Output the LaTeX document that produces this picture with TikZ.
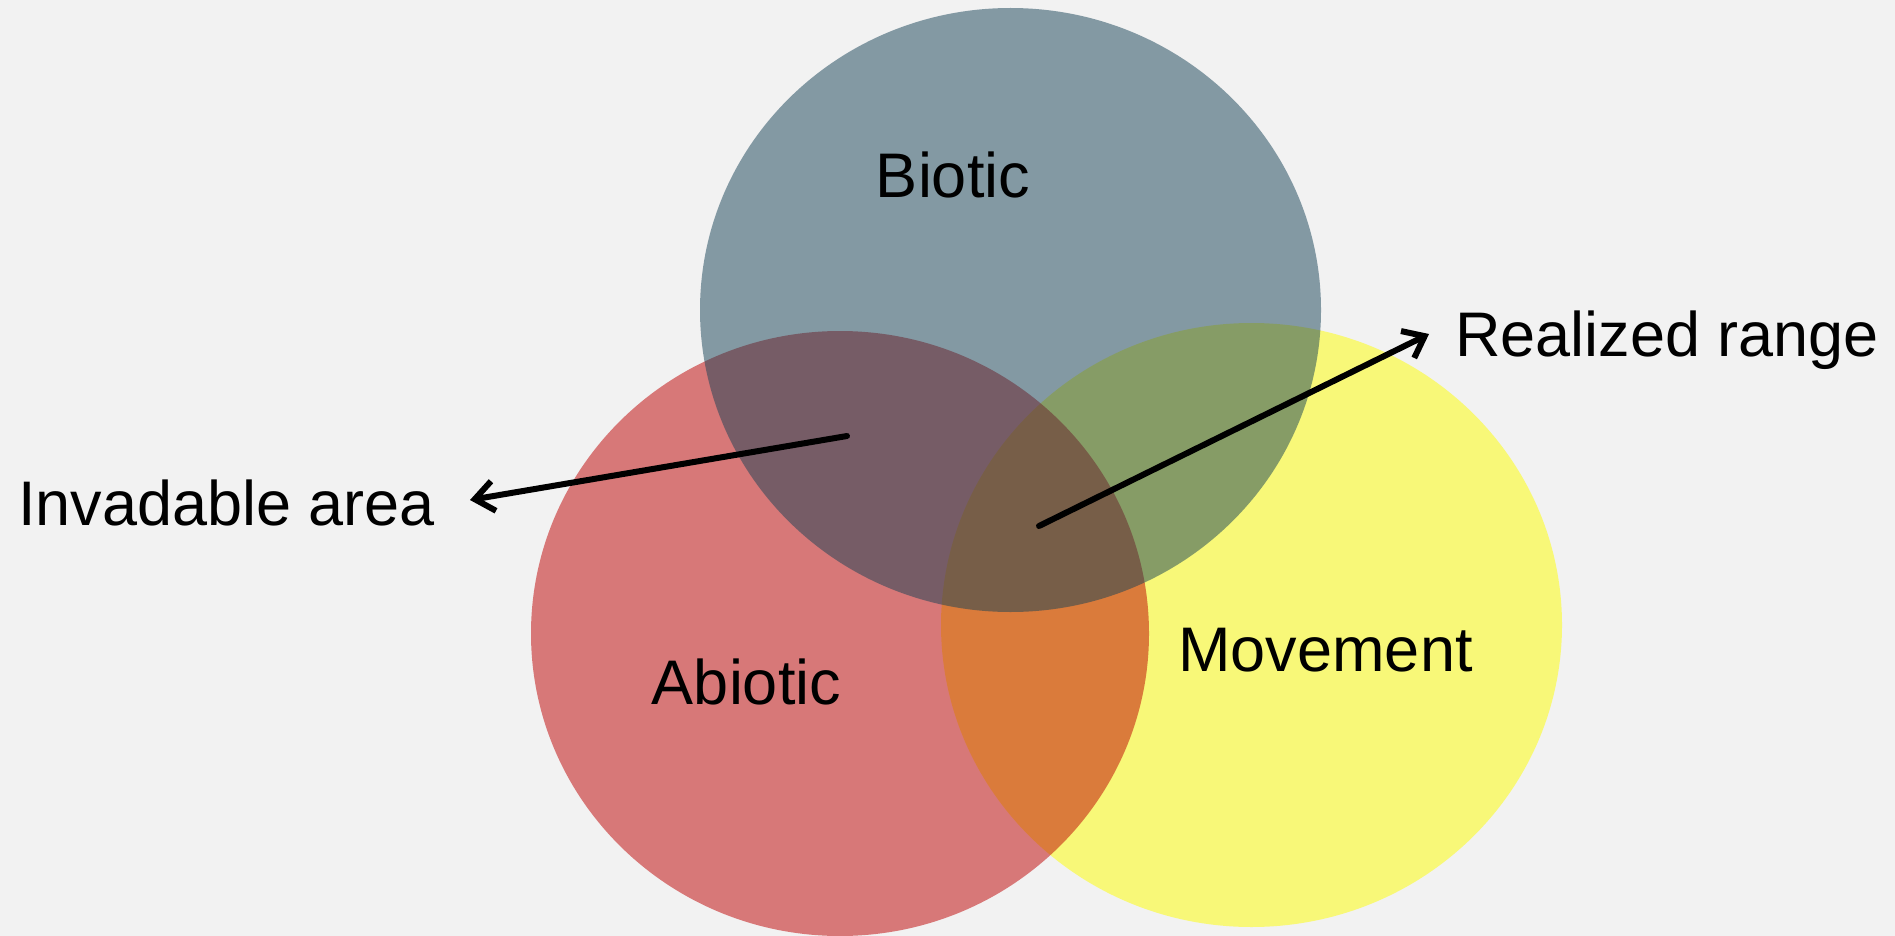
\documentclass[tikz,border=0pt]{standalone}
\usepackage{fontspec}
\setmainfont{Liberation Sans}
\usetikzlibrary{arrows.meta}

\definecolor{bgcol}{RGB}{242,242,242}
\definecolor{biocol}{RGB}{22,66,86}
\definecolor{abiocol}{RGB}{190,0,0}
\definecolor{movecol}{RGB}{255,255,0}

\tikzset{
  setfill/.style={fill=#1, fill opacity=0.5, draw=none},
  label/.style={inner sep=0pt, font=\fontsize{63}{75}\selectfont, text=black},
  pointer/.style={line width=6pt, line cap=round, draw=black,
    -{Straight Barb[length=19pt, width=30pt, line width=6pt]}}
}

\begin{document}
\begin{tikzpicture}[x=1pt, y=-1pt]
  % canvas
  \fill[bgcol] (0,0) rectangle (1895,936);
  \useasboundingbox (0,0) rectangle (1895,936);

  % the three sets, drawn back to front
  \fill[setfill=movecol] (1251.5,625) ellipse [x radius=310.5pt, y radius=302pt];
  \fill[setfill=abiocol] (840,633.5) ellipse [x radius=309pt, y radius=302.5pt];
  \fill[setfill=biocol]  (1010.5,310) ellipse [x radius=310.5pt, y radius=302pt];

  % set labels
  \node[label, anchor=base] (biotic)   at (953,198)    {Biotic};
  \node[label, anchor=base] (abiotic)  at (746.5,704)  {Abiotic};
  \node[label, anchor=base] (movement) at (1325.5,671) {Movement};

  % region labels
  \node[label, anchor=base west] (invadable) at (18,525)  {Invadable area};
  \node[label, anchor=base west] (realized)  at (1455,356) {Realized range};

  % pointers from the overlap regions towards their labels
  \coordinate (invStart) at (847,436);
  \coordinate (invTip)   at (470,500);
  \coordinate (relStart) at (1039,526);
  \coordinate (relTip)   at (1429,334);
  \draw[pointer] (invStart) -- (invTip);
  \draw[pointer] (relStart) -- (relTip);
\end{tikzpicture}
\end{document}
